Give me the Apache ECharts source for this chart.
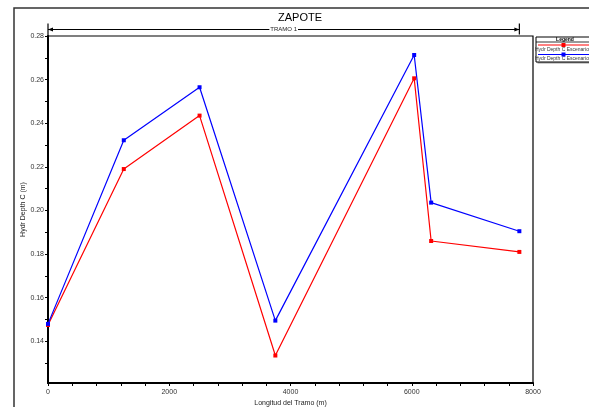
<!DOCTYPE html>
<html><head><meta charset="utf-8">
<script src="https://cdn.jsdelivr.net/npm/echarts@6/dist/echarts.min.js"></script>
<style>html,body{margin:0;padding:0;background:#fff;overflow:hidden}#c{width:589px;height:407px}</style>
</head><body><div id="c"></div>
<script>
const chartTitle = 'ZAPOTE';
const reachLabel = 'TRAMO 1';
const xAxisName = 'Longitud del Tramo (m)';
const yAxisName = 'Hydr Depth C (m)';
const legendTitle = 'Legend';
const stations = [0, 1250, 2500, 3750, 6040, 6320, 7775];
const seriesNames = ['Hydr Depth C Escenario 1', 'Hydr Depth C Escenario 2'];
const seriesColors = ['#ff0000', '#0000ff'];
const depthRed = [0.1475, 0.219, 0.2435, 0.1335, 0.2606, 0.186, 0.181];
const depthBlue = [0.148, 0.2322, 0.2565, 0.1495, 0.2713, 0.2036, 0.1905];
const yTickLabels = [0.14, 0.16, 0.18, 0.20, 0.22, 0.24, 0.26, 0.28];
const yMinorTicks = [0.13, 0.14, 0.15, 0.16, 0.17, 0.18, 0.19, 0.20, 0.21, 0.22, 0.23, 0.24, 0.25, 0.26, 0.27, 0.28];

const FONT = 'Liberation Sans, Arial, sans-serif';
const chart = echarts.init(document.getElementById('c'), null, {renderer: 'canvas'});
const allSeries = [depthRed, depthBlue];

const option = {
  animation: false,
  backgroundColor: '#fff',
  textStyle: {fontFamily: FONT},
  title: {
    text: chartTitle, left: 300, top: 12, padding: 0, textAlign: 'center',
    textStyle: {fontFamily: FONT, fontSize: 11, fontWeight: 'normal', color: '#000'}
  },
  grid: {left: 48, top: 36, right: 56, bottom: 24, show: true, borderColor: '#000', borderWidth: 1.2,
    containLabel: false, outerBoundsMode: 'none'},
  xAxis: {
    type: 'value', min: 0, max: 8000, interval: 2000,
    name: xAxisName, nameLocation: 'middle', nameGap: 17, nameMoveOverlap: false,
    nameTextStyle: {fontFamily: FONT, fontSize: 7, color: '#222'},
    axisLine: {show: true, lineStyle: {color: '#000', width: 2}},
    axisTick: {show: true, length: 3, lineStyle: {color: '#000'}},
    minorTick: {show: true, splitNumber: 5, length: 3, lineStyle: {color: '#000'}},
    axisLabel: {fontFamily: FONT, fontSize: 7, color: '#333', margin: 6, formatter: v => String(v)},
    splitLine: {show: false}
  },
  yAxis: {
    type: 'value', min: 0.1209, max: 0.28,
    name: yAxisName, nameLocation: 'middle', nameGap: 21, nameRotate: 90, nameMoveOverlap: false,
    nameTextStyle: {fontFamily: FONT, fontSize: 7, color: '#222'},
    axisLine: {show: true, lineStyle: {color: '#000', width: 2}},
    axisTick: {show: true, length: 3, customValues: yMinorTicks, lineStyle: {color: '#000'}},
    axisLabel: {fontFamily: FONT, fontSize: 7, color: '#333', margin: 4, customValues: yTickLabels,
      formatter: v => v.toFixed(2)},
    splitLine: {show: false}
  },
  series: allSeries.map((arr, i) => ({
    name: seriesNames[i], type: 'line',
    data: stations.map((x, j) => [x, arr[j]]),
    symbol: 'rect', symbolSize: 4,
    lineStyle: {color: seriesColors[i], width: 1.2},
    itemStyle: {color: seriesColors[i]},
    clip: false
  }))
};
chart.setOption(option);

function buildGraphics() {
  const p0 = chart.convertToPixel({gridIndex: 0}, [stations[0], 0.28]);
  const p1 = chart.convertToPixel({gridIndex: 0}, [stations[stations.length - 1], 0.28]);
  const gridTop = p0[1];
  const ay = gridTop - 6.5;
  const xl = p0[0], xr = p1[0];
  const els = [];
  els.push({type: 'rect', shape: {x: 14, y: 8, width: 620, height: 430}, style: {fill: null, stroke: '#333', lineWidth: 1.5}, z: 1});
  els.push({type: 'line', shape: {x1: xl, y1: ay, x2: xr, y2: ay}, style: {stroke: '#000', lineWidth: 1}, z: 5});
  els.push({type: 'line', shape: {x1: xl, y1: ay - 6, x2: xl, y2: gridTop}, style: {stroke: '#000', lineWidth: 1.2}, z: 5});
  els.push({type: 'line', shape: {x1: xr, y1: ay - 6, x2: xr, y2: ay + 5}, style: {stroke: '#000', lineWidth: 1.2}, z: 5});
  els.push({type: 'polygon', shape: {points: [[xl, ay], [xl + 5, ay - 2], [xl + 5, ay + 2]]}, style: {fill: '#000'}, z: 5});
  els.push({type: 'polygon', shape: {points: [[xr, ay], [xr - 5, ay - 2], [xr - 5, ay + 2]]}, style: {fill: '#000'}, z: 5});
  els.push({type: 'text', x: (xl + xr) / 2, y: ay, style: {text: reachLabel, font: '6px ' + FONT, fill: '#222', align: 'center', verticalAlign: 'middle', backgroundColor: '#fff', padding: [0, 1]}, z: 6});
  const lx = 536, ly = 37, lw = 64, lh = 25;
  els.push({type: 'rect', shape: {x: lx + 1.5, y: ly + 1.5, width: lw, height: lh}, style: {fill: '#999'}, z: 4});
  els.push({type: 'rect', shape: {x: lx, y: ly, width: lw, height: lh}, style: {fill: '#fff', stroke: '#000', lineWidth: 1}, z: 5});
  els.push({type: 'text', x: 565, y: ly + 2.5, style: {text: legendTitle, font: 'bold 5px ' + FONT, fill: '#000', align: 'center', verticalAlign: 'middle'}, z: 6});
  els.push({type: 'line', shape: {x1: lx, y1: ly + 5, x2: lx + lw, y2: ly + 5}, style: {stroke: '#000', lineWidth: 0.8}, z: 6});
  seriesNames.forEach((n, i) => {
    const yy = ly + 8 + i * 9.5;
    els.push({type: 'line', shape: {x1: lx + 2, y1: yy, x2: lx + lw, y2: yy}, style: {stroke: seriesColors[i], lineWidth: 1}, z: 6});
    els.push({type: 'rect', shape: {x: 561.5, y: yy - 2, width: 4, height: 4}, style: {fill: seriesColors[i]}, z: 7});
    els.push({type: 'text', x: lx - 1, y: yy + 4.5, style: {text: n, font: '5px ' + FONT, fill: '#333', align: 'left', verticalAlign: 'middle'}, z: 6});
  });
  chart.setOption({graphic: {elements: els}});
}
buildGraphics();
</script>
</body></html>
